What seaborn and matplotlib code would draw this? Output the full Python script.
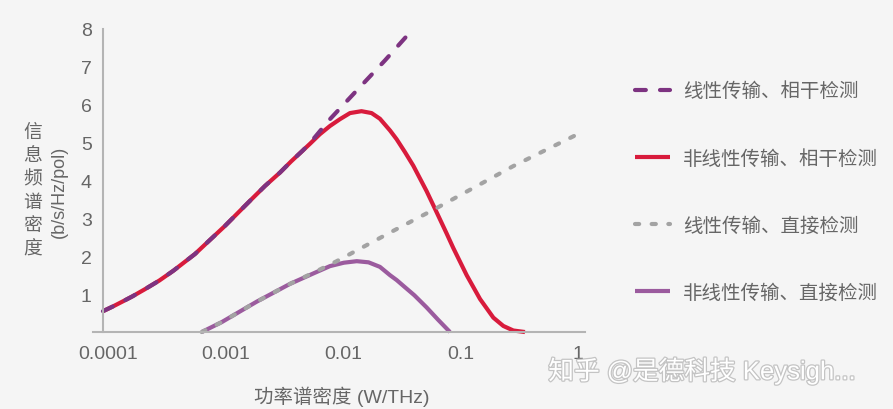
import matplotlib
matplotlib.use("Agg")
import matplotlib.pyplot as plt
import matplotlib.patheffects as pe
import matplotlib.transforms as mtransforms
import seaborn as sns
import pandas as pd

# ---- data ----
p_lin_coh = [1e-4, 1.225e-4, 1.5e-4, 1.778e-4, 2.275e-4, 3.02e-4, 3.98e-4, 6.07e-4, 7.94e-4,
             1.091e-3, 1.413e-3, 1.845e-3, 2.40e-3, 3.21e-3, 3.98e-3, 5.01e-3, 5.78e-3,
             8.55e-3, 1.468e-2, 2.51e-2, 4.1e-2]
c_lin_coh = [0.55, 0.68, 0.82, 0.94, 1.13, 1.36, 1.62, 2.06, 2.40,
             2.80, 3.15, 3.51, 3.86, 4.21, 4.50, 4.79, 4.99,
             5.62, 6.40, 7.17, 7.91]

p_nl_coh = [1e-4, 1.225e-4, 1.5e-4, 1.778e-4, 2.275e-4, 3.02e-4, 3.98e-4, 6.07e-4, 7.94e-4,
            1.091e-3, 1.413e-3, 1.845e-3, 2.40e-3, 3.21e-3, 3.98e-3, 5.01e-3, 5.78e-3,
            7.0e-3, 8.55e-3, 1.04e-2, 1.265e-2, 1.585e-2, 1.932e-2, 2.275e-2, 2.773e-2,
            3.155e-2, 3.715e-2, 4.375e-2, 5.675e-2, 6.70e-2, 8.41e-2, 9.57e-2, 0.1245,
            0.1618, 0.2099, 0.2553, 0.3105, 0.390]
c_nl_coh = [0.55, 0.68, 0.82, 0.94, 1.13, 1.36, 1.62, 2.06, 2.40,
            2.80, 3.15, 3.51, 3.86, 4.21, 4.50, 4.79, 4.97,
            5.22, 5.44, 5.62, 5.78, 5.83, 5.78, 5.63, 5.32,
            5.09, 4.75, 4.39, 3.72, 3.25, 2.60, 2.22, 1.50,
            0.87, 0.38, 0.16, 0.04, 0.0]

p_lin_dir = [6.92e-4, 1.023e-3, 2.03e-3, 3.90e-3, 6.31e-3, 9.75e-3, 2.95e-2, 6.70e-2, 0.310, 1.175]
c_lin_dir = [0.0, 0.26, 0.80, 1.27, 1.58, 1.87, 2.67, 3.25, 4.38, 5.27]

p_nl_dir = [6.92e-4, 1.023e-3, 2.03e-3, 3.90e-3, 6.31e-3, 8.55e-3, 1.122e-2, 1.445e-2,
            1.82e-2, 2.275e-2, 2.773e-2, 3.162e-2, 3.597e-2, 4.467e-2, 5.675e-2, 7.079e-2, 8.974e-2]
c_nl_dir = [0.0, 0.26, 0.80, 1.27, 1.56, 1.74, 1.83, 1.87,
            1.84, 1.72, 1.50, 1.37, 1.22, 0.97, 0.65, 0.33, 0.0]

labels = ["线性传输、相干检测", "非线性传输、相干检测", "线性传输、直接检测", "非线性传输、直接检测"]
x_ticks = [1e-4, 1e-3, 1e-2, 1e-1, 1]
x_ticklabels = ["0.0001", "0.001", "0.01", "0.1", "1"]
y_ticks = [1, 2, 3, 4, 5, 6, 7, 8]

# ---- style ----
BG = "#f5f5f5"
TXT = "#666666"
AX = "#b4b4b4"
sns.set_theme(style="white")
plt.rcParams["font.family"] = ["Liberation Sans", "Noto Sans CJK SC", "DejaVu Sans"]

fig = plt.figure(figsize=(8.93, 4.10), dpi=100, facecolor=BG)
ax = fig.add_axes([0.1041, 0.1785, 0.551, 0.7576])
ax.set_facecolor(BG)

def df(p, c):
    return pd.DataFrame({"p": p, "c": c})

LW = 3.0
sns.lineplot(data=df(p_nl_coh, c_nl_coh), x="p", y="c", ax=ax, color="#d81b3c",
             lw=LW, sort=False, estimator=None, label=labels[1])
l_red = ax.lines[-1]
sns.lineplot(data=df(p_nl_dir, c_nl_dir), x="p", y="c", ax=ax, color="#9b5b9e",
             lw=LW, sort=False, estimator=None, label=labels[3])
l_pur = ax.lines[-1]
sns.lineplot(data=df(p_lin_coh, c_lin_coh), x="p", y="c", ax=ax, color="#7d3381",
             lw=LW, sort=False, estimator=None, label=labels[0])
l_dash = ax.lines[-1]
l_dash.set_dashes((2.6, 3.4))
l_dash.set_dash_capstyle("round")
sns.lineplot(data=df(p_lin_dir, c_lin_dir), x="p", y="c", ax=ax, color="#a3a3a3",
             lw=LW, sort=False, estimator=None, label=labels[2])
l_grey = ax.lines[-1]
l_grey.set_dashes((1.0, 3.0))
l_grey.set_dash_capstyle("round")
for l in [l_red, l_pur]:
    l.set_solid_capstyle("butt")
    l.set_solid_joinstyle("round")
for l in ax.lines:
    l.set_clip_on(False)

ax.set_xscale("log")
ax.set_xlim(10 ** -4.085, 10 ** 0.102)
ax.set_ylim(-0.1, 8.1)
ax.set_xticks(x_ticks)
ax.set_xticklabels(x_ticklabels)
ax.minorticks_off()
ax.set_yticks(y_ticks)
ax.set_yticklabels([str(v) for v in y_ticks])

for s in ["top", "right"]:
    ax.spines[s].set_visible(False)
ax.spines["left"].set_position(("data", 1e-4))
ax.spines["left"].set_bounds(0, 8)
ax.spines["bottom"].set_position(("data", 0))
for s in ["left", "bottom"]:
    ax.spines[s].set_color(AX)
    ax.spines[s].set_linewidth(1.5)
ax.tick_params(axis="both", direction="inout", length=8, width=1.5, color=AX,
               labelcolor=TXT, labelsize=14)
ax.tick_params(axis="y", pad=4)
ax.tick_params(axis="x", pad=5)
shift = mtransforms.ScaledTranslation(5 / 100, 0, fig.dpi_scale_trans)
for lab in ax.get_xticklabels():
    lab.set_transform(lab.get_transform() + shift)
ax.set_xlabel("")
ax.set_ylabel("")

# legend
leg = ax.legend(handles=[l_dash, l_red, l_grey, l_pur], labels=labels,
                loc="center left", bbox_to_anchor=(0.711, 0.530),
                bbox_transform=fig.transFigure, frameon=False, fontsize=14,
                handlelength=1.8, handletextpad=0.67, labelspacing=2.5,
                borderpad=0, borderaxespad=0)
for t in leg.get_texts():
    t.set_color(TXT)

# axis labels
fig.text(0.037, 0.532, "信\n息\n频\n谱\n密\n度", ha="center", va="center",
         fontsize=13.5, color=TXT, linespacing=1.47)
fig.text(0.066, 0.532, "(b/s/Hz/pol)", ha="center", va="center", rotation=90,
         fontsize=13, color=TXT)
fig.text(0.383, 0.032, "功率谱密度 (W/THz)", ha="center", va="center",
         fontsize=14, color=TXT)

# watermark
fig.text(0.614, 0.093, "知乎 @是德科技 Keysigh...", ha="left", va="center",
         fontsize=18.5, color="white",
         path_effects=[pe.withStroke(linewidth=1.8, foreground="#c4c4c4")])

fig.savefig("out.png", dpi=100, facecolor=BG)
